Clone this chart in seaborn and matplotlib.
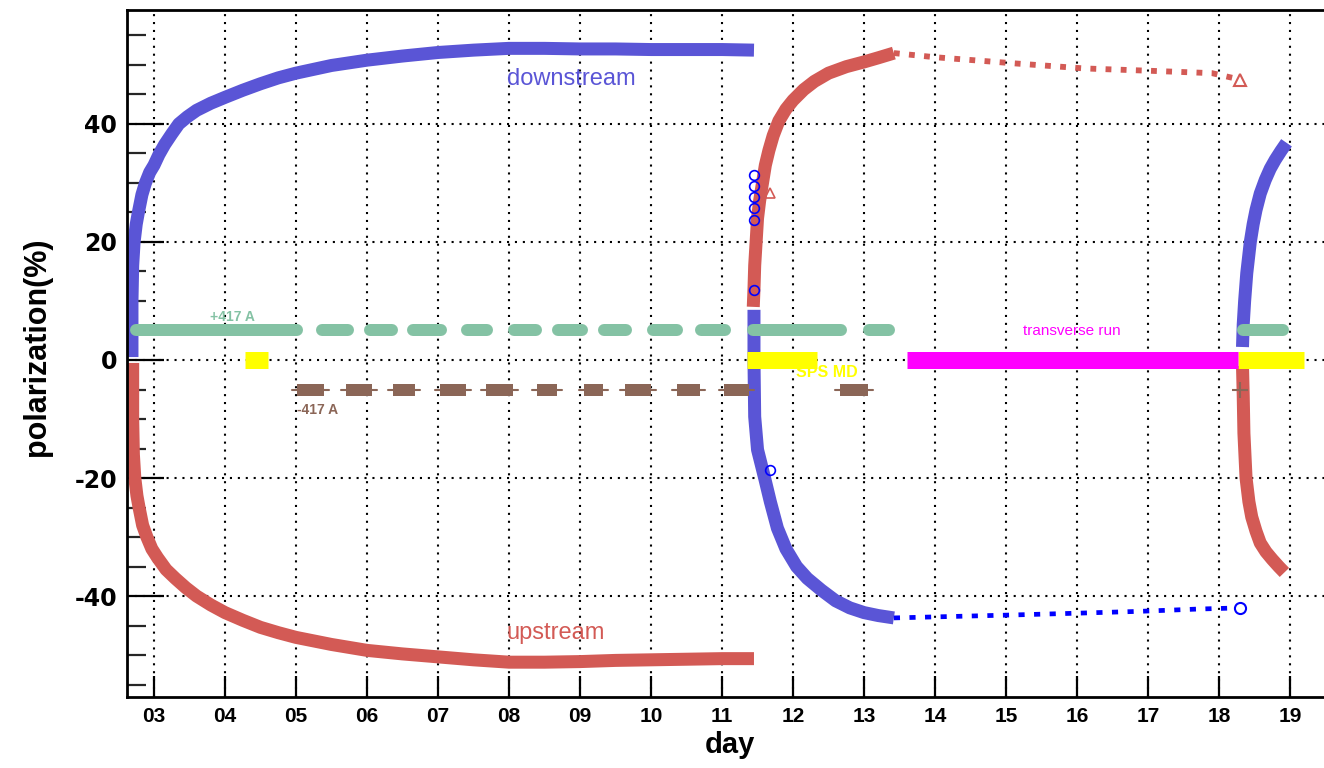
import numpy as np
import pandas as pd
import matplotlib
matplotlib.use("Agg")
import matplotlib.pyplot as plt
from matplotlib.ticker import MultipleLocator, FixedLocator
import seaborn as sns

# ---------------- data ----------------
# phase 1 (days 2.7 - 11.45)
down1_day = [2.69, 2.69, 2.70, 2.72, 2.75, 2.78, 2.83, 2.88, 2.94, 3.00, 3.07, 3.15, 3.25, 3.35,
             3.47, 3.60, 3.80, 4.00, 4.25, 4.50, 4.75, 5.00, 5.50, 6.00, 6.50, 7.00, 7.50, 8.00,
             8.50, 9.00, 9.50, 10.00, 10.50, 11.00, 11.45]
down1_pol = [0.5, 10.0, 16.0, 20.0, 23.0, 25.0, 28.0, 30.0, 31.8, 33.0, 34.8, 36.5, 38.3, 40.0,
             41.2, 42.3, 43.5, 44.5, 45.7, 46.8, 47.8, 48.6, 49.9, 50.8, 51.5, 52.1, 52.5, 52.8,
             52.8, 52.7, 52.7, 52.6, 52.6, 52.6, 52.5]
up1_day = [2.70, 2.70, 2.71, 2.73, 2.76, 2.79, 2.84, 2.90, 2.97, 3.05, 3.17, 3.30, 3.45, 3.60,
           3.80, 4.00, 4.25, 4.50, 4.75, 5.00, 5.50, 6.00, 6.50, 7.00, 7.50, 8.00, 8.50, 9.00,
           9.50, 10.00, 10.50, 11.00, 11.45]
up1_pol = [-0.5, -10.0, -16.0, -20.0, -23.0, -25.0, -28.0, -30.0, -32.0, -33.5, -35.5, -37.0,
           -38.6, -40.0, -41.5, -42.8, -44.1, -45.3, -46.2, -47.0, -48.2, -49.2, -49.8, -50.3,
           -50.8, -51.2, -51.2, -51.1, -50.9, -50.8, -50.7, -50.6, -50.6]
# phase 2 (days 11.45 - 13.42)
up2_day = [11.44, 11.45, 11.46, 11.48, 11.50, 11.53, 11.57, 11.61, 11.66, 11.72, 11.80, 11.90,
           12.00, 12.15, 12.30, 12.50, 12.75, 13.00, 13.20, 13.42]
up2_pol = [9.0, 12.0, 16.0, 20.0, 24.0, 27.0, 30.0, 33.0, 35.5, 38.0, 40.5, 42.5, 44.0, 45.8,
           47.2, 48.6, 49.7, 50.5, 51.2, 52.0]
down2_day = [11.45, 11.45, 11.46, 11.50, 11.60, 11.68, 11.78, 11.90, 12.05, 12.20, 12.40, 12.60,
             12.80, 13.00, 13.20, 13.42]
down2_pol = [8.5, 0.0, -9.6, -15.2, -20.0, -24.0, -28.5, -32.0, -35.0, -37.0, -39.0, -40.8,
             -42.0, -42.8, -43.3, -43.7]
# sparse measurements (transverse period)
up_sparse_day = [13.42, 14.00, 15.07, 16.10, 17.03, 17.90, 18.30]
up_sparse_pol = [52.0, 51.3, 50.3, 49.4, 49.0, 48.6, 47.5]
down_sparse_day = [13.42, 15.10, 16.00, 16.85, 17.70, 18.30]
down_sparse_pol = [-43.7, -43.2, -42.9, -42.6, -42.2, -42.0]
# phase 3 (days 18.33 - 19)
down3_day = [18.33, 18.34, 18.36, 18.39, 18.44, 18.48, 18.52, 18.58, 18.65, 18.72, 18.79, 18.87,
             18.95]
down3_pol = [2.2, 6.0, 10.0, 14.7, 20.0, 23.0, 25.4, 28.2, 30.5, 32.4, 33.9, 35.4, 36.8]
up3_day = [18.33, 18.34, 18.35, 18.38, 18.42, 18.46, 18.52, 18.58, 18.66, 18.75, 18.84, 18.92]
up3_pol = [-1.0, -6.0, -12.4, -20.0, -24.0, -26.6, -29.0, -31.0, -32.5, -33.8, -35.0, -36.0]
# isolated open markers
circ_day = [11.45, 11.45, 11.45, 11.45, 11.45, 11.45, 11.68]
circ_pol = [31.4, 29.5, 27.6, 25.8, 23.7, 11.9, -18.6]
tri_day = [11.68]
tri_pol = [28.3]

# magnet / run periods (start, end in days)
plus417_start = [2.66, 5.28, 5.96, 6.57, 7.33, 7.98, 8.61, 9.26, 9.94, 10.62, 11.35, 12.99, 18.25]
plus417_end = [5.10, 5.82, 6.43, 7.12, 7.78, 8.47, 9.11, 9.73, 10.45, 11.12, 12.76, 13.44, 18.99]
minus417_start = [5.02, 5.71, 6.36, 7.03, 7.68, 8.40, 9.05, 9.64, 10.36, 11.03, 12.66]
minus417_end = [5.40, 6.07, 6.68, 7.40, 8.05, 8.68, 9.33, 10.00, 10.69, 11.38, 13.06]
spsmd_start = [4.28, 11.35, 18.26]
spsmd_end = [4.61, 12.34, 19.20]
trans_start = [13.60]
trans_end = [18.26]
level_plus, level_minus, level_zero = 5.0, -5.0, 0.0

x_ticks = list(range(3, 20))
x_ticklabels = [f"{d:02d}" for d in x_ticks]
y_ticks = [-40, -20, 0, 20, 40]

# ---------------- style ----------------
BLUE = "#5a55d6"
RED = "#d35a55"
GREEN = "#84c2a4"
BROWN = "#8b6657"
YELLOW = "#ffff00"
MAGENTA = "#ff00ff"
PX = 0.72  # points per pixel at dpi 100

sns.set_theme(style="white")
plt.rcParams['font.family'] = ['Liberation Sans', 'DejaVu Sans']
plt.rcParams['axes.unicode_minus'] = False

fig = plt.figure(figsize=(13.24, 7.68), dpi=100)
ax = fig.add_axes([127 / 1324, 1 - 697 / 768, 1200 / 1324, 687 / 768])
ax.set_xlim(2.62, 19.52)
ax.set_ylim(-57.1, 59.3)

# grid
ax.set_axisbelow(True)
ax.xaxis.set_major_locator(FixedLocator(x_ticks))
ax.set_xticklabels(x_ticklabels)
ax.yaxis.set_major_locator(FixedLocator(y_ticks))
ax.yaxis.set_minor_locator(MultipleLocator(5))
ax.grid(True, which="major", color="black", linestyle=(0, (1, 2.8)), linewidth=1.5)

px_per_day = 1200 / (19.52 - 2.62)

def period_bars(starts, ends, y, color, lw_px, cap="butt", inset_px=0.0, z=6):
    ins = inset_px / px_per_day
    for s, e in zip(starts, ends):
        ax.plot([s + ins, e - ins], [y, y], color=color, lw=lw_px * PX,
                solid_capstyle=cap, zorder=z)

# polarization curves
lw_curve = 13 * PX
for xs, ys, c in [(down1_day, down1_pol, BLUE), (up1_day, up1_pol, RED),
                  (up2_day, up2_pol, RED), (down2_day, down2_pol, BLUE),
                  (down3_day, down3_pol, BLUE), (up3_day, up3_pol, RED)]:
    sns.lineplot(x=xs, y=ys, estimator=None, sort=False, color=c, lw=lw_curve,
                 ax=ax, legend=False, zorder=4, solid_joinstyle="round",
                 solid_capstyle="butt")

# +417 A (rounded dashes)
period_bars(plus417_start, plus417_end, level_plus, GREEN, 12, cap="round", inset_px=6)
# -417 A (boxes with thin whiskers)
for s, e in zip(minus417_start, minus417_end):
    ax.plot([s - 0.07, e + 0.07], [level_minus, level_minus], color=BROWN, lw=1.5, zorder=6)
period_bars(minus417_start, minus417_end, level_minus, BROWN, 12)
ax.plot([18.30], [level_minus], marker="+", color=BROWN, ms=12, mew=1.5, zorder=7)
# SPS MD and transverse run
period_bars(spsmd_start, spsmd_end, level_zero, YELLOW, 17, z=6)
period_bars(trans_start, trans_end, level_zero, MAGENTA, 17, z=6)

# sparse measurements
l1 = ax.plot(up_sparse_day, up_sparse_pol, color=RED, lw=4.2, zorder=5)[0]
l1.set_dashes((1.0, 1.6)); l1.set_dash_capstyle("butt")
l2 = ax.plot(down_sparse_day, down_sparse_pol, color="#0000ff", lw=3.4, zorder=5)[0]
l2.set_dashes((1.3, 2.0)); l2.set_dash_capstyle("butt")
ax.plot([up_sparse_day[-1]], [up_sparse_pol[-1]], marker="^", ms=8, mfc="white",
        mec=RED, mew=1.5, ls="none", zorder=7)
ax.plot([down_sparse_day[-1]], [down_sparse_pol[-1]], marker="o", ms=8, mfc="white",
        mec="#0000ff", mew=1.5, ls="none", zorder=7)
ax.plot(circ_day, circ_pol, marker="o", ms=7, mfc="none", mec="#0000ff", mew=1.2,
        ls="none", zorder=7)
ax.plot(tri_day, tri_pol, marker="^", ms=7, mfc="none", mec=RED, mew=1.2,
        ls="none", zorder=7)

# annotations
ax.text(8.88, 47.6, "downstream", color=BLUE, fontsize=17, ha="center", va="center", zorder=8)
ax.text(8.66, -46.2, "upstream", color=RED, fontsize=17, ha="center", va="center", zorder=8)
ax.text(4.11, 7.2, "+417 A", color=GREEN, fontsize=10, fontweight="bold", ha="center", va="center")
ax.text(5.30, -8.4, "-417 A", color=BROWN, fontsize=10, fontweight="bold", ha="center", va="center")
ax.text(12.47, -2.2, "SPS MD", color=YELLOW, fontsize=11.5, fontweight="bold", ha="center", va="center", zorder=8)
ax.text(15.92, 4.9, "transverse run", color=MAGENTA, fontsize=11, ha="center", va="center")

# axes, ticks, labels
for side in ["left", "bottom", "top"]:
    ax.spines[side].set_color("black")
    ax.spines[side].set_linewidth(2.0)
    ax.spines[side].set_zorder(9)
ax.spines["right"].set_visible(False)

ax.tick_params(axis="x", which="major", direction="in", length=21 * PX, width=1.6,
               pad=7, labelsize=15, colors="black", bottom=True, top=False)
ax.tick_params(axis="y", which="major", direction="in", length=37 * PX, width=1.6,
               pad=7, colors="black", left=True, right=False)
ax.tick_params(axis="y", which="minor", direction="in", length=19 * PX, width=1.6,
               left=True, right=False)
for lab in ax.get_xticklabels():
    lab.set_fontweight("bold")
for lab in ax.get_yticklabels():
    lab.set_fontfamily("DejaVu Sans")
    lab.set_fontweight("bold")
    lab.set_fontsize(17)

ax.set_xlabel("day", fontsize=21, fontweight="bold", color="black")
ax.xaxis.set_label_coords((730 - 127) / 1200, (697 - 731) / 687)
ax.set_ylabel("polarization(%)", fontsize=22, fontweight="bold", color="black")
ax.yaxis.set_label_coords((52 - 127) / 1200, 0.51)

fig.savefig("out.png", dpi=100, facecolor="white")
